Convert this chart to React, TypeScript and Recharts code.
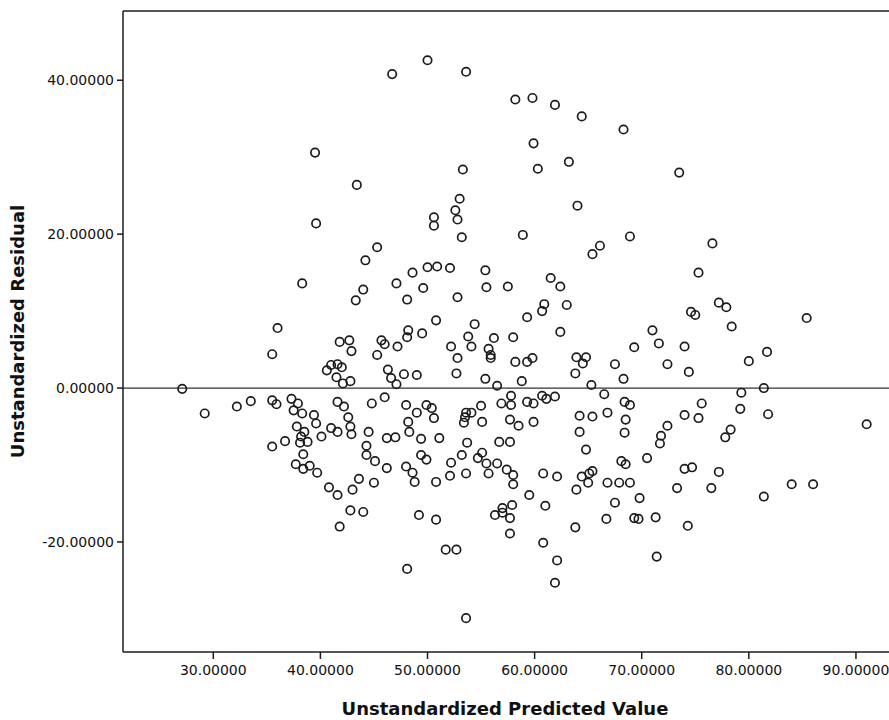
import React from 'react'
import {
  ScatterChart,
  Scatter,
  XAxis,
  YAxis,
  ReferenceLine,
} from 'recharts'

// x: unstandardized predicted value, y: unstandardized residual
const predicted = [
  39.5, 43.4, 39.6, 46.7, 50.0, 53.6, 58.2, 59.8, 61.9, 64.4, 68.3, 59.9, 60.3, 63.2, 53.3, 53.0,
  52.6, 52.8, 50.6, 50.6, 64.0, 58.9, 73.5, 45.3, 44.2, 38.3, 44.0, 43.3, 36.0, 35.5, 41.8, 42.7,
  42.9, 45.3, 40.6, 41.0, 41.6, 42.0, 41.5, 42.1, 42.8, 27.1, 29.2, 32.2, 33.5, 35.5, 35.9, 37.3,
  37.9, 37.5, 38.3, 39.4, 39.6, 37.8, 38.5, 38.2, 40.1, 41.0, 41.6, 42.2, 42.6, 42.8, 41.6, 42.9,
  44.8, 44.5, 44.3, 35.5, 36.7, 38.1, 38.8, 38.4, 37.7, 38.4, 39.0, 39.7, 40.8, 41.6, 43.0, 43.6,
  42.8, 44.0, 41.8, 44.3, 45.1, 45.0, 53.2, 66.1, 65.4, 68.9, 48.6, 50.0, 50.9, 52.1, 47.1, 49.6,
  48.1, 52.8, 55.4, 55.5, 57.5, 61.5, 62.4, 59.3, 60.7, 60.9, 63.0, 62.4, 50.8, 48.2, 48.1, 49.5,
  45.7, 46.0, 47.2, 54.4, 53.8, 54.1, 52.2, 52.8, 52.7, 56.2, 58.0, 55.7, 55.9, 55.9, 58.2, 59.3,
  59.8, 58.8, 55.4, 56.5, 46.3, 46.6, 47.1, 47.8, 49.0, 63.9, 64.8, 64.5, 63.8, 67.5, 65.3, 66.5,
  68.3, 46.0, 48.0, 49.0, 48.2, 48.3, 49.9, 50.4, 50.6, 46.2, 47.0, 49.4, 51.1, 53.5, 53.6, 53.4,
  54.1, 55.0, 55.1, 53.7, 56.9, 57.8, 57.8, 57.7, 58.5, 59.3, 59.9, 59.9, 60.7, 61.1, 61.9, 56.7,
  57.7, 64.2, 65.4, 66.8, 64.2, 64.8, 68.4, 68.5, 68.4, 46.2, 48.0, 48.6, 48.8, 49.4, 49.9, 50.8,
  52.1, 52.2, 53.2, 53.6, 54.7, 55.1, 55.5, 55.7, 56.5, 57.4, 58.0, 58.0, 49.2, 50.8, 48.1, 51.7,
  52.7, 53.6, 56.3, 57.0, 57.0, 57.9, 57.7, 57.7, 59.5, 61.0, 60.8, 62.1, 61.9, 60.8, 62.1, 63.8,
  63.9, 64.4, 65.1, 65.4, 65.0, 66.7, 66.8, 67.9, 67.5, 68.1, 68.5, 71.7, 70.5, 74.0, 74.7, 77.2,
  68.9, 69.8, 73.3, 76.5, 81.4, 84.0, 86.0, 69.3, 69.7, 71.3, 74.3, 71.4, 76.6, 75.3, 77.2, 77.9,
  74.6, 75.0, 78.4, 85.4, 71.0, 71.6, 69.3, 74.0, 72.4, 74.4, 80.0, 81.7, 81.4, 79.3, 68.9, 75.6,
  74.0, 75.3, 79.2, 81.8, 72.4, 71.8, 78.3, 77.8, 91.0,
]

const residual = [
  30.6, 26.4, 21.4, 40.8, 42.6, 41.1, 37.5, 37.7, 36.8, 35.3, 33.6, 31.8, 28.5, 29.4, 28.4, 24.6,
  23.1, 21.9, 22.2, 21.1, 23.7, 19.9, 28.0, 18.3, 16.6, 13.6, 12.8, 11.4, 7.8, 4.4, 6.0, 6.2,
  4.8, 4.3, 2.3, 3.0, 3.1, 2.7, 1.4, 0.6, 0.9, -0.1, -3.3, -2.4, -1.7, -1.6, -2.1, -1.4,
  -2.0, -2.9, -3.3, -3.5, -4.6, -5.0, -5.7, -6.3, -6.3, -5.2, -1.8, -2.4, -3.8, -5.0, -5.7, -6.0,
  -2.0, -5.7, -7.5, -7.6, -6.9, -7.1, -7.0, -8.6, -9.9, -10.5, -10.1, -11.0, -12.9, -13.9, -13.2, -11.8,
  -15.9, -16.1, -18.0, -8.7, -9.5, -12.3, 19.6, 18.5, 17.4, 19.7, 15.0, 15.7, 15.8, 15.6, 13.6, 13.0,
  11.5, 11.8, 15.3, 13.1, 13.2, 14.3, 13.2, 9.2, 10.0, 10.9, 10.8, 7.3, 8.8, 7.5, 6.6, 7.1,
  6.2, 5.7, 5.4, 8.3, 6.7, 5.4, 5.4, 3.9, 1.9, 6.5, 6.6, 5.1, 3.9, 4.3, 3.4, 3.4,
  3.9, 0.9, 1.2, 0.3, 2.4, 1.3, 0.5, 1.8, 1.7, 4.0, 4.0, 3.2, 1.9, 3.1, 0.4, -0.8,
  1.2, -1.2, -2.2, -3.2, -4.4, -5.7, -2.2, -2.6, -3.9, -6.5, -6.4, -6.6, -6.5, -3.8, -3.2, -4.5,
  -3.2, -2.3, -4.4, -7.1, -2.0, -1.0, -2.2, -4.1, -4.9, -1.8, -2.0, -4.4, -1.0, -1.4, -1.1, -7.0,
  -7.0, -3.6, -3.7, -3.2, -5.7, -8.0, -1.8, -4.1, -5.8, -10.4, -10.2, -11.0, -12.2, -8.7, -9.3, -12.2,
  -11.4, -9.7, -8.7, -11.1, -9.1, -8.4, -9.8, -11.1, -9.8, -10.6, -11.3, -12.5, -16.5, -17.1, -23.5, -21.0,
  -21.0, -29.9, -16.5, -15.6, -16.2, -15.2, -16.9, -18.9, -13.9, -15.3, -20.1, -22.4, -25.3, -11.1, -11.5, -18.1,
  -13.2, -11.5, -11.1, -10.8, -12.3, -17.0, -12.3, -12.3, -14.9, -9.5, -9.9, -7.2, -9.1, -10.5, -10.3, -10.9,
  -12.3, -14.3, -13.0, -13.0, -14.1, -12.5, -12.5, -16.9, -17.0, -16.8, -17.9, -21.9, 18.8, 15.0, 11.1, 10.5,
  9.9, 9.5, 8.0, 9.1, 7.5, 5.8, 5.3, 5.4, 3.1, 2.1, 3.5, 4.7, 0.0, -0.6, -2.2, -2.0,
  -3.5, -3.9, -2.7, -3.4, -4.9, -6.2, -5.4, -6.4, -4.7,
]

const xTicks = [30, 40, 50, 60, 70, 80, 90]
const yTicks = [-20, 0, 20, 40]
const xDomain = [21.57, 94.58]
const yDomain = [-34.3, 49.0]

const points = predicted.map((x, i) => ({ x, y: residual[i] }))

const ink = '#1c1c1c'
const tickStyle = { fontSize: 14, fontFamily: '"DejaVu Sans", sans-serif', fill: '#111' }
const titleStyle = { fontSize: 18, fontWeight: 700, fontFamily: '"DejaVu Sans", sans-serif', fill: '#111' }

const fmt = (v: number) => v.toFixed(5)

function OpenCircle(props: any) {
  const { cx, cy } = props
  if (cx == null || cy == null) return null
  return <circle cx={cx} cy={cy} r={4.2} fill="none" stroke={ink} strokeWidth={1.7} />
}

function YTitle(props: any) {
  const vb = props.viewBox || { y: 0, height: 0 }
  const cy = vb.y + vb.height / 2
  return (
    <text x={24} y={cy} transform={`rotate(-90, 24, ${cy})`} textAnchor="middle" style={titleStyle}>
      Unstandardized Residual
    </text>
  )
}

function XTitle() {
  return (
    <text x={505} y={715} textAnchor="middle" style={titleStyle}>
      Unstandardized Predicted Value
    </text>
  )
}

export default function App() {
  return (
    <div
      style={{
        position: 'absolute',
        left: 0,
        top: 0,
        width: 889,
        height: 720,
        overflow: 'hidden',
        background: '#fff',
      }}
    >
      <ScatterChart width={905} height={720} margin={{ top: 11, right: 0, bottom: 0, left: 0 }}>
        <XAxis
          type="number"
          dataKey="x"
          domain={xDomain}
          ticks={xTicks}
          interval={0}
          allowDataOverflow
          height={68}
          tickSize={7}
          tickMargin={6}
          tickFormatter={fmt}
          tick={tickStyle}
          axisLine={{ stroke: ink, strokeWidth: 1.5 }}
          tickLine={{ stroke: ink, strokeWidth: 1.5 }}
          label={XTitle}
        />
        <YAxis
          type="number"
          dataKey="y"
          domain={yDomain}
          ticks={yTicks}
          interval={0}
          allowDataOverflow
          width={123}
          tickSize={6}
          tickMargin={3}
          tickFormatter={fmt}
          tick={tickStyle}
          axisLine={{ stroke: ink, strokeWidth: 1.5 }}
          tickLine={{ stroke: ink, strokeWidth: 1.5 }}
          label={YTitle}
        />
        {/* frame along the top of the plot */}
        <ReferenceLine y={yDomain[1]} stroke={ink} strokeWidth={1.5} ifOverflow="visible" />
        <ReferenceLine y={0} stroke="#333" strokeWidth={1.2} />
        <Scatter data={points} shape={OpenCircle} isAnimationActive={false} />
      </ScatterChart>
    </div>
  )
}
